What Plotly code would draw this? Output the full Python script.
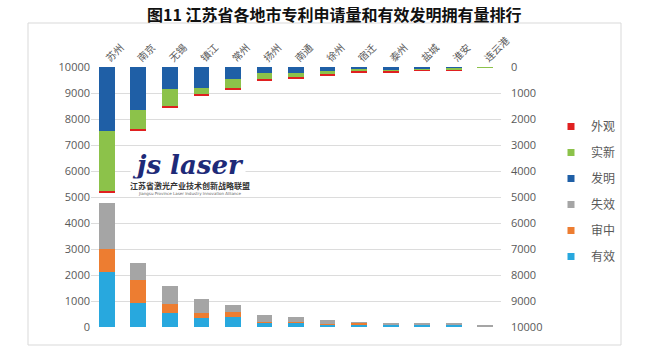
import plotly.graph_objects as go

cities = ["苏州", "南京", "无锡", "镇江", "常州", "扬州", "南通", "徐州", "宿迁", "泰州", "盐城", "淮安", "连云港"]

# Bottom stack (left axis): effective invention ownership
youxiao = [2130, 910, 550, 330, 380, 170, 170, 110, 110, 80, 80, 80, 30]
shenzhong = [870, 890, 320, 190, 210, 40, 40, 20, 50, 30, 10, 10, 5]
shixiao = [1780, 650, 700, 560, 240, 250, 180, 130, 20, 40, 30, 30, 10]

# Top stack (right axis, reversed): patent applications
faming = [2450, 1660, 860, 810, 470, 220, 230, 150, 80, 100, 90, 20, 0]
shixin = [2330, 760, 650, 230, 360, 260, 180, 130, 100, 80, 50, 100, 30]
waiguan = [60, 60, 65, 40, 20, 40, 40, 40, 50, 25, 5, 10, 0]

axis_ticks = list(range(0, 10001, 1000))
axis_labels = [str(v) for v in axis_ticks]

FONT = "Noto Sans CJK SC"
TICKC = "#595959"

fig = go.Figure()
bottom = [("有效", youxiao, "#28A8DE"), ("审中", shenzhong, "#ED7D31"), ("失效", shixiao, "#A5A5A5")]
top = [("发明", faming, "#1F5FA6"), ("实新", shixin, "#8CC24A"), ("外观", waiguan, "#E02020")]
rank = {"外观": 1, "实新": 2, "发明": 3, "失效": 4, "审中": 5, "有效": 6}
for name, vals, col in bottom:
    fig.add_trace(go.Bar(x=cities, y=vals, name=name, marker_color=col, yaxis="y",
                         showlegend=False, marker_line_width=0))
for name, vals, col in top:
    fig.add_trace(go.Bar(x=cities, y=vals, name=name, marker_color=col, yaxis="y2",
                         showlegend=False, marker_line_width=0))
# legend entries with small square markers
for name, vals, col in bottom + top:
    fig.add_trace(go.Scatter(x=[None], y=[None], mode="markers", name=name,
                             marker=dict(symbol="square", size=7, color=col),
                             legendrank=rank[name], legendgroup=name, showlegend=True))

L, R, T, B = 91, 150, 67, 28
W, H = 651, 355
pw, ph = W - L - R, H - T - B


def px(x):
    return (x - L) / pw


def py(y):
    return (H - B - y) / ph


fig.update_layout(
    width=W, height=H,
    margin=dict(l=L, r=R, t=T, b=B, pad=0),
    paper_bgcolor="white", plot_bgcolor="white",
    barmode="stack", bargap=0.5,
    font=dict(family=FONT, size=11, color=TICKC),
    xaxis=dict(side="top", tickangle=-45, showgrid=False, showline=False, ticks="",
               tickfont=dict(size=10, color=TICKC, family=FONT)),
    yaxis=dict(range=[0, 10000], tickvals=axis_ticks, ticktext=axis_labels, showgrid=True,
               gridcolor="#DCDCDC", gridwidth=1, zeroline=False, showline=False, ticks="",
               tickfont=dict(size=11, color=TICKC, family="Open Sans")),
    yaxis2=dict(range=[10000, 0], tickvals=axis_ticks, ticktext=axis_labels, overlaying="y",
                side="right", showgrid=False, zeroline=False, showline=False, ticks="",
                ticklabelstandoff=9,
                tickfont=dict(size=11, color=TICKC, family="Open Sans")),
    legend=dict(x=px(551), y=py(112), xanchor="left", yanchor="top",
                font=dict(size=12, color=TICKC, family=FONT), tracegroupgap=7,
                itemwidth=30, bgcolor="rgba(0,0,0,0)"),
    showlegend=True,
)

# outer border
fig.add_shape(type="rect", xref="paper", yref="paper",
              x0=px(28), x1=px(621), y0=py(345), y1=py(23),
              line=dict(color="#D9D9D9", width=1), fillcolor="rgba(0,0,0,0)", layer="below")

# title (partly cut off at top in reference)
fig.add_annotation(text="<b>图11 江苏省各地市专利申请量和有效发明拥有量排行</b>", xref="paper", yref="paper",
                   x=px(334), y=py(0), xanchor="center", yanchor="top", showarrow=False,
                   font=dict(size=16, color="#111111", family=FONT))

# logo watermark
fig.add_annotation(text="<b><i>js laser</i></b>", xref="paper", yref="paper",
                   x=px(188), y=py(165), xanchor="center", yanchor="middle", showarrow=False,
                   font=dict(size=26, color="#1E2A78", family="DejaVu Serif"),
                   bgcolor="white")
fig.add_annotation(text="<b>江苏省激光产业技术创新战略联盟</b>", xref="paper", yref="paper",
                   x=px(190), y=py(185), xanchor="center", yanchor="middle", showarrow=False,
                   font=dict(size=8, color="#333333", family=FONT), bgcolor="white")
fig.add_annotation(text="Jiangsu Province Laser Industry Innovation Alliance", xref="paper", yref="paper",
                   x=px(190), y=py(193), xanchor="center", yanchor="middle", showarrow=False,
                   font=dict(size=4, color="#666666", family="DejaVu Sans"))

fig.write_html("out.html")
